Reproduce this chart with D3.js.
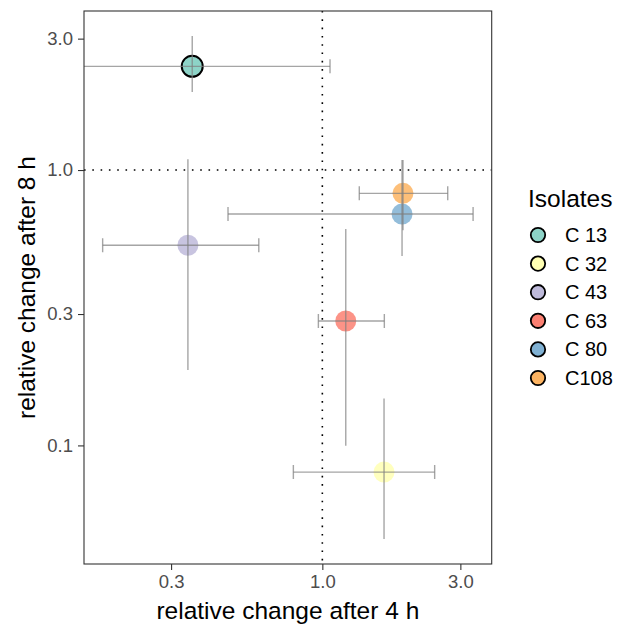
<!DOCTYPE html>
<html>
<head>
<meta charset="utf-8">
<script src="https://cdn.jsdelivr.net/npm/d3@7"></script>
<style>
  body { margin: 0; background: #fff; }
  text { font-family: "Liberation Sans", Arial, sans-serif; }
</style>
</head>
<body>
<div id="chart"></div>
<script>
// isolates and their values
const isolates = ["C 13", "C 32", "C 43", "C 63", "C 80", "C108"];
const colors   = ["#8DD3C7", "#FFFFB3", "#BEBADA", "#FB8072", "#80B1D3", "#FDB462"];
const change4  = [0.355, 1.634, 0.343, 1.205, 1.886, 1.90];
const change4Lo = [0.12, 0.794, 0.174, 0.969, 0.472, 1.342];
const change4Hi = [1.063, 2.445, 0.603, 1.638, 3.32, 2.713];
const change8  = [2.38, 0.080, 0.533, 0.283, 0.692, 0.823];
const change8Lo = [1.92, 0.0457, 0.188, 0.0998, 0.487, 0.605];
const change8Hi = [3.07, 0.148, 1.094, 0.611, 1.087, 1.087];
const xTicks = [0.3, 1.0, 3.0];
const yTicks = [0.1, 0.3, 1.0, 3.0];

const width = 620, height = 625;
const panel = {left: 84, right: 491.7, top: 11, bottom: 564};

const data = isolates.map((d, i) => ({
  name: d, color: colors[i],
  x: change4[i], xlo: change4Lo[i], xhi: change4Hi[i],
  y: change8[i], ylo: change8Lo[i], yhi: change8Hi[i]
}));

const svg = d3.select("#chart").append("svg")
  .attr("width", width)
  .attr("height", height);

const x = d3.scaleLog().domain([0.150, 3.85]).range([panel.left, panel.right]);
const y = d3.scaleLog().domain([0.0371, 3.78]).range([panel.bottom, panel.top]);

svg.append("clipPath").attr("id", "clip")
  .append("rect")
  .attr("x", panel.left).attr("y", panel.top)
  .attr("width", panel.right - panel.left)
  .attr("height", panel.bottom - panel.top);

const plot = svg.append("g").attr("clip-path", "url(#clip)");

// reference lines at 1
plot.append("line")
  .attr("x1", x(1)).attr("x2", x(1))
  .attr("y1", panel.top).attr("y2", panel.bottom)
  .attr("stroke", "#000").attr("stroke-width", 1.6)
  .attr("stroke-dasharray", "1.6 6.7");
plot.append("line")
  .attr("x1", panel.left).attr("x2", panel.right)
  .attr("y1", y(1)).attr("y2", y(1))
  .attr("stroke", "#000").attr("stroke-width", 1.6)
  .attr("stroke-dasharray", "1.6 6.7");

// points
plot.selectAll("circle.pt")
  .data(data)
  .enter().append("circle")
  .attr("class", "pt")
  .attr("cx", d => x(d.x))
  .attr("cy", d => y(d.y))
  .attr("r", 10.5)
  .attr("fill", d => d.color)
  .attr("fill-opacity", (d, i) => i === 0 ? 1 : 0.85)
  .attr("stroke", (d, i) => i === 0 ? "#000" : "none")
  .attr("stroke-width", 2);

// error bars
const lineCol = "#7f7f7f", lineOp = 0.7, capH = 7;
const eb = plot.append("g").attr("stroke", lineCol).attr("stroke-opacity", lineOp).attr("stroke-width", 1.4);
data.forEach(d => {
  eb.append("line")
    .attr("x1", x(d.xlo)).attr("x2", x(d.xhi))
    .attr("y1", y(d.y)).attr("y2", y(d.y));
  eb.append("line")
    .attr("x1", x(d.xlo)).attr("x2", x(d.xlo))
    .attr("y1", y(d.y) - capH).attr("y2", y(d.y) + capH);
  eb.append("line")
    .attr("x1", x(d.xhi)).attr("x2", x(d.xhi))
    .attr("y1", y(d.y) - capH).attr("y2", y(d.y) + capH);
  eb.append("line")
    .attr("x1", x(d.x)).attr("x2", x(d.x))
    .attr("y1", y(d.ylo)).attr("y2", y(d.yhi));
});

// panel border
svg.append("rect")
  .attr("x", panel.left).attr("y", panel.top)
  .attr("width", panel.right - panel.left)
  .attr("height", panel.bottom - panel.top)
  .attr("fill", "none")
  .attr("stroke", "#333").attr("stroke-width", 1.1);

// axes
const fmt = d3.format(".1f");
const xAxis = svg.append("g")
  .attr("transform", `translate(0, ${panel.bottom})`)
  .call(d3.axisBottom(x).tickValues(xTicks).tickFormat(fmt).tickSize(6).tickPadding(4));
const yAxis = svg.append("g")
  .attr("transform", `translate(${panel.left}, 0)`)
  .call(d3.axisLeft(y).tickValues(yTicks).tickFormat(fmt).tickSize(6).tickPadding(5));
[xAxis, yAxis].forEach(a => {
  a.select(".domain").remove();
  a.selectAll(".tick line").attr("stroke", "#333").attr("stroke-width", 1.1);
  a.selectAll(".tick text")
    .attr("fill", "#4D4D4D")
    .style("font-size", "18.5px")
    .style("font-family", "Liberation Sans, Arial, sans-serif");
});
xAxis.selectAll(".tick text").attr("dy", "0.75em");

// axis titles
svg.append("text")
  .attr("x", (panel.left + panel.right) / 2)
  .attr("y", 619)
  .attr("text-anchor", "middle")
  .style("font-size", "24.5px")
  .text("relative change after 4 h");
svg.append("text")
  .attr("transform", `translate(35, ${(panel.top + panel.bottom) / 2}) rotate(-90)`)
  .attr("text-anchor", "middle")
  .style("font-size", "24.5px")
  .text("relative change after 8 h");

// legend
const legend = svg.append("g");
legend.append("text")
  .attr("x", 528).attr("y", 207)
  .style("font-size", "24.5px")
  .text("Isolates");
const items = legend.selectAll("g.item")
  .data(data)
  .enter().append("g")
  .attr("class", "item")
  .attr("transform", (d, i) => `translate(538, ${235 + i * 28.6})`);
items.append("circle")
  .attr("r", 7.2)
  .attr("fill", d => d.color)
  .attr("stroke", "#000")
  .attr("stroke-width", 1.8);
items.append("text")
  .attr("x", 27)
  .attr("y", 7)
  .style("font-size", "20px")
  .text(d => d.name);
</script>
</body>
</html>
